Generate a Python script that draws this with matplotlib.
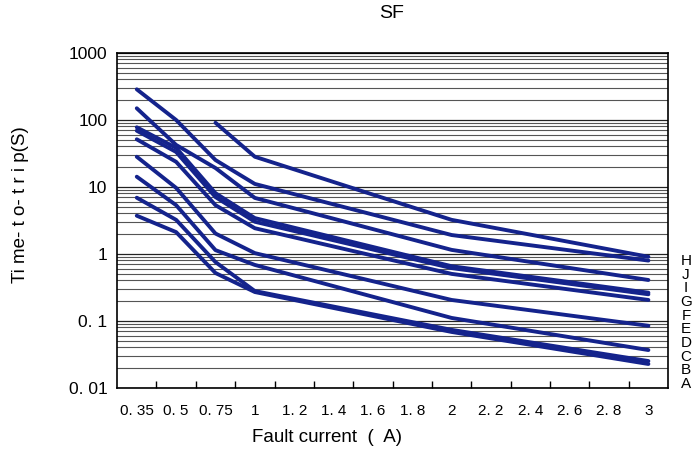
import numpy as np
import matplotlib
matplotlib.use("Agg")
from matplotlib import pyplot as plt
from matplotlib.ticker import FixedLocator, NullFormatter

plt.rcParams['font.family'] = ['Liberation Sans', 'DejaVu Sans']

# categories of the fault current axis (evenly spaced, as in the datasheet)
currents = ["0. 35", "0. 5", "0. 75", "1", "1. 2", "1. 4", "1. 6", "1. 8",
            "2", "2. 2", "2. 4", "2. 6", "2. 8", "3"]
# the curves only have points at these currents
curve_currents = ["0. 35", "0. 5", "0. 75", "1", "2", "3"]

nan = float("nan")
H = [nan, nan, 90, 28, 3.2, 0.9]
J = [284, 99, 25, 11, 1.9, 0.79]
I = [148, 42, 19, 6.8, 1.14, 0.405]
G = [77, 38, 8.0, 3.4, 0.65, 0.262]
F = [68.5, 33, 7.0, 3.0, 0.61, 0.248]
E = [51, 23.5, 5.3, 2.4, 0.50, 0.204]
D = [28, 9.6, 2.0, 1.02, 0.204, 0.084]
C = [14.1, 5.3, 1.13, 0.68, 0.11, 0.0365]
B = [6.85, 3.2, 0.75, 0.277, 0.073, 0.025]
A = [3.69, 2.1, 0.515, 0.268, 0.068, 0.0226]

curves = [H, J, I, G, F, E, D, C, B, A]
letters = ["H", "J", "I", "G", "F", "E", "D", "C", "B", "A"]

ytick_vals = [0.01, 0.1, 1, 10, 100, 1000]
ytick_labels = ["0. 01", "0. 1", "1", "10", "100", "1000"]

fig = plt.figure(figsize=(6.97, 4.63), dpi=100)
ax = fig.add_axes([0.168, 0.1626, 0.7905, 0.7236])

xpos = [currents.index(c) for c in curve_currents]
for vals in curves:
    ax.plot(xpos, vals, color='#14238c', lw=2.8, solid_capstyle='round',
            solid_joinstyle='round', zorder=3)

ax.set_yscale('log')
ax.set_ylim(0.01, 1000)
ax.set_xlim(-0.5, len(currents) - 0.5)

# horizontal grid
ax.yaxis.grid(True, which='major', color='#222222', lw=0.9)
ax.yaxis.grid(True, which='minor', color='#555555', lw=0.8)
ax.set_axisbelow(True)

ax.set_yticks(ytick_vals)
ax.set_yticklabels(ytick_labels, fontsize=12.5)
ax.yaxis.set_minor_formatter(NullFormatter())
ax.tick_params(axis='y', which='both', length=0, pad=7)
for lab in ax.get_yticklabels():
    lab.set_verticalalignment('center_baseline')

ax.set_xticks(range(len(currents)))
ax.set_xticklabels(currents, fontsize=11)
ax.xaxis.set_minor_locator(FixedLocator(np.arange(0.5, len(currents) - 1, 1)))
ax.tick_params(axis='x', which='major', length=0, pad=12)
ax.tick_params(axis='x', which='minor', direction='in', length=5, width=1,
               color='black')

for s in ax.spines.values():
    s.set_linewidth(1.2)
    s.set_color('black')

fig.text(392 / 697, 1 - 13 / 463, "SF", fontsize=14, ha='center', va='center')
fig.text(21 / 697, 1 - 205 / 463, "Ti me- t o- t r i p(S)", fontsize=13.5,
         rotation=90, ha='center', va='center')
fig.text(327 / 697, 1 - 438 / 463, "Fault current  (  A)", fontsize=13.5,
         ha='center', va='center')

# curve letters to the right of the chart, stacked in one block
fig.text(686 / 697, 1 - 254 / 463, "\n".join(letters), fontsize=11,
         linespacing=0.97, ha='center', va='top', multialignment='center')

fig.savefig("out.png", dpi=100)
